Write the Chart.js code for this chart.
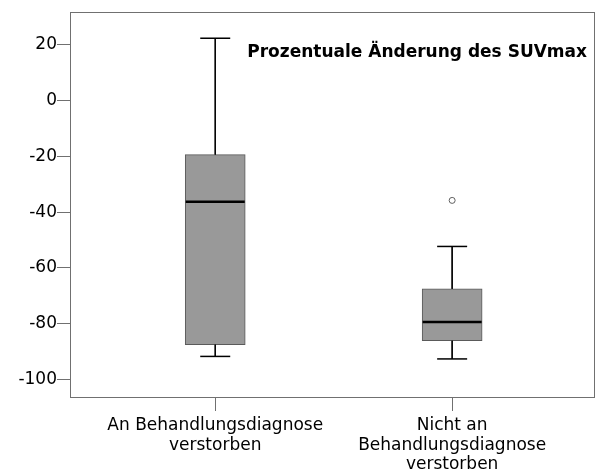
<!DOCTYPE html>
<html>
<head>
<meta charset="utf-8">
<script src="https://cdn.jsdelivr.net/npm/chart.js@4/dist/chart.umd.min.js"></script>
<style>
  html, body { margin: 0; padding: 0; background: #ffffff; }
  #wrap { width: 596px; height: 472px; }
</style>
</head>
<body>
<div id="wrap"><canvas id="c" width="596" height="472"></canvas></div>
<script>
// ---- data ----
const chartTitle = "Prozentuale Änderung des SUVmax";
const categories = [["An Behandlungsdiagnose", "verstorben"], ["Nicht an", "Behandlungsdiagnose", "verstorben"]];
const positions = [1, 2];
const whiskerLow = [-91.7, -92.6];
const q1 = [-87.5, -86.1];
const median = [-36.3, -79.4];
const q3 = [-19.4, -67.5];
const whiskerHigh = [22.3, -52.3];
const outliers = [[], [-35.8]];
const yTicks = [20, 0, -20, -40, -60, -80, -100];

// ---- derived datasets ----
const boxData = positions.map((x, i) => ({ x: x, y: [q1[i], q3[i]] }));
const whiskerData = [];
positions.forEach((x, i) => {
  whiskerData.push({ x: x, y: whiskerHigh[i] }, { x: x, y: q3[i] }, { x: x, y: null },
                   { x: x, y: q1[i] }, { x: x, y: whiskerLow[i] }, { x: x, y: null });
});
const capData = [];
positions.forEach((x, i) => { capData.push({ x: x, y: whiskerHigh[i] }, { x: x, y: whiskerLow[i] }); });
const medianData = positions.map((x, i) => ({ x: x, y: median[i] }));
const outlierData = [];
positions.forEach((x, i) => outliers[i].forEach(v => outlierData.push({ x: x, y: v })));

const FONT = "DejaVu Sans";

const framePlugin = {
  id: 'frame',
  beforeDatasetsDraw(chart) {
    const { ctx, chartArea: a } = chart;
    ctx.save();
    ctx.strokeStyle = '#707070';
    ctx.lineWidth = 1;
    ctx.strokeRect(Math.round(a.left) + 0.5, Math.round(a.top) + 0.5,
                   Math.round(a.right - a.left) - 1, Math.round(a.bottom - a.top) - 1);
    ctx.restore();
  },
  afterDraw(chart) {
    const { ctx, chartArea: a } = chart;
    ctx.save();
    ctx.font = 'bold 17px "' + FONT + '"';
    ctx.fillStyle = '#000000';
    ctx.textAlign = 'right';
    ctx.textBaseline = 'alphabetic';
    ctx.fillText(chartTitle, a.right - 8, a.top + 45);
    ctx.restore();
  }
};

new Chart(document.getElementById('c'), {
  type: 'bar',
  data: {
    datasets: [
      {
        type: 'bar',
        data: boxData,
        backgroundColor: '#999999',
        borderColor: '#5a5a5a',
        borderWidth: 1,
        borderSkipped: false,
        barThickness: 60,
        order: 4
      },
      {
        type: 'line',
        data: whiskerData,
        borderColor: '#000000',
        borderWidth: 1,
        pointRadius: 0,
        spanGaps: false,
        fill: false,
        order: 3
      },
      {
        type: 'scatter',
        data: capData,
        pointStyle: 'line',
        pointRadius: 15,
        borderColor: '#000000',
        borderWidth: 1.5,
        order: 2
      },
      {
        type: 'scatter',
        data: medianData,
        pointStyle: 'line',
        pointRadius: 29.5,
        borderColor: '#000000',
        borderWidth: 2.5,
        order: 1
      },
      {
        type: 'scatter',
        data: outlierData,
        pointStyle: 'circle',
        pointRadius: 3,
        backgroundColor: '#ffffff',
        borderColor: '#606060',
        borderWidth: 1,
        order: 0
      }
    ]
  },
  options: {
    responsive: false,
    animation: false,
    layout: { autoPadding: false, padding: { top: 12, right: 1, left: 0, bottom: 0 } },
    plugins: { legend: { display: false }, tooltip: { enabled: false }, title: { display: false } },
    scales: {
      x: {
        type: 'linear',
        offset: false,
        min: 0.387,
        max: 2.603,
        afterBuildTicks: (s) => { s.ticks = positions.map(v => ({ value: v })); },
        afterFit: (s) => { s.height = 74; },
        border: { display: false },
        grid: { offset: false, drawOnChartArea: false, drawTicks: true, tickLength: 13, color: '#707070', lineWidth: 1 },
        ticks: {
          callback: (v) => categories[positions.indexOf(v)],
          font: { family: FONT, size: 17, lineHeight: 1.15 },
          color: '#000000',
          padding: 5,
          maxRotation: 0,
          autoSkip: false
        }
      },
      y: {
        type: 'linear',
        min: -106.6,
        max: 31.7,
        afterBuildTicks: (s) => { s.ticks = yTicks.map(v => ({ value: v })); },
        afterFit: (s) => { s.width = 70; },
        border: { display: false },
        grid: { drawOnChartArea: false, drawTicks: true, tickLength: 13, color: '#707070', lineWidth: 1 },
        ticks: {
          font: { family: FONT, size: 17 },
          color: '#000000',
          padding: 0
        }
      }
    }
  },
  plugins: [framePlugin]
});
</script>
</body>
</html>
